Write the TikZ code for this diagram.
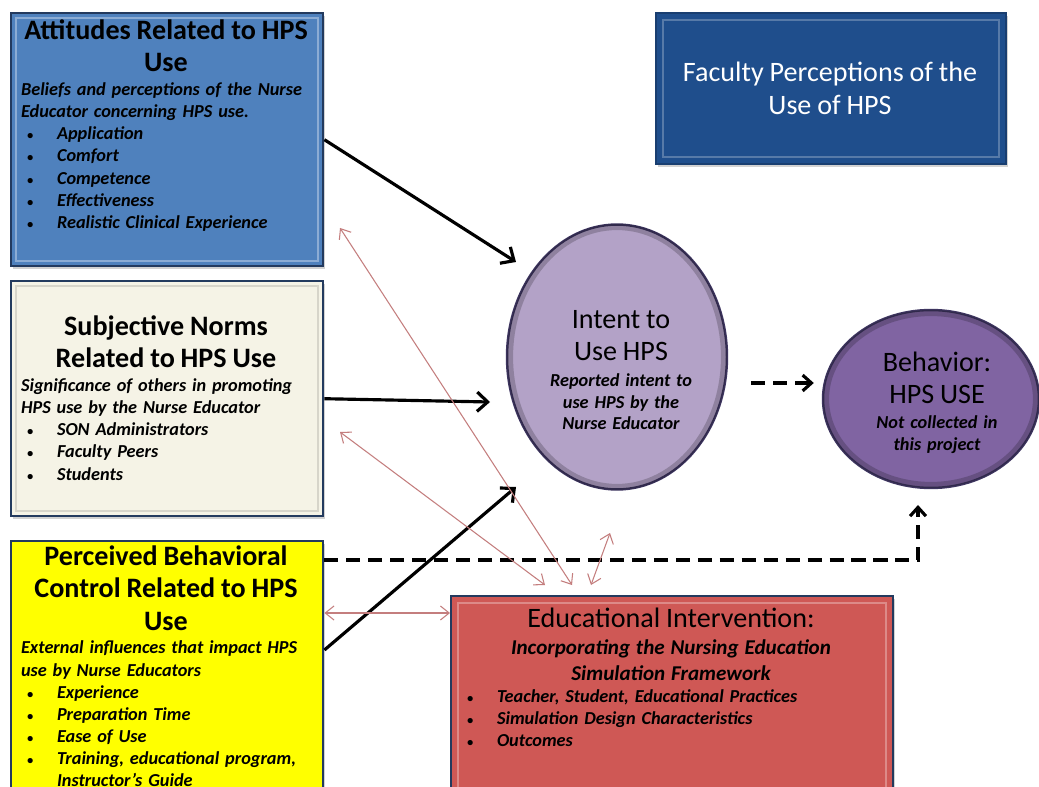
\documentclass[tikz,border=0pt]{standalone}
\usepackage{fontspec}
\setmainfont{Carlito}
\usetikzlibrary{arrows.meta,shapes.geometric,shadows}

\definecolor{attblue}{HTML}{4F81BD}
\definecolor{navy}{HTML}{233A5E}
\definecolor{cream}{HTML}{F5F3E6}
\definecolor{yel}{HTML}{FFFF00}
\definecolor{dblue}{HTML}{1F4E8C}
\definecolor{lav}{HTML}{B3A2C7}
\definecolor{purp}{HTML}{8064A2}
\definecolor{redbox}{HTML}{CF5855}
\definecolor{thinred}{HTML}{C47E7E}
\definecolor{rimdark}{HTML}{3E3560}

\newcommand{\ttlfont}{\fontsize{16}{18.5}\selectfont\bfseries}
\newcommand{\bdyfont}{\fontsize{10.4}{12.6}\selectfont\bfseries\itshape}
\newcommand{\bulitem}[1]{\par\makebox[0.72cm][l]{\hspace{0.12cm}{\fontsize{7}{7}\selectfont\textbullet}}#1}

\tikzset{
  boxnode/.style={rectangle, draw=navy, line width=1.4pt, anchor=north west, inner sep=0pt,
    drop shadow={shadow xshift=1.2pt, shadow yshift=-1.5pt, opacity=0.35}},
  bevel/.style={draw=white, draw opacity=0.35, line width=1.2pt},
  txt/.style={inner sep=0pt, anchor=north, text depth=0pt},
  ellnode/.style={ellipse, draw=rimdark, line width=1.4pt, inner sep=0pt},
  rim/.style={draw=black, draw opacity=0.2, line width=3.5pt},
  blk/.style={line width=1.8pt, -{Straight Barb[length=6pt,width=11pt,line width=1.8pt]}},
  dsh/.style={line width=1.8pt, dash pattern=on 8pt off 4.5pt, -{Straight Barb[length=5pt,width=9pt,line width=1.8pt]}},
  thn/.style={draw=thinred, line width=0.6pt, {Straight Barb[length=5pt,width=8pt,line width=0.6pt]}-{Straight Barb[length=5pt,width=8pt,line width=0.6pt]}}
}

\begin{document}
\begin{tikzpicture}[x=0.02cm,y=-0.02cm]
\useasboundingbox (0,0) rectangle (1039,787);
\fill[white] (0,0) rectangle (1039,787);
\clip (0,0) rectangle (1039,787);

% ---------- boxes ----------
\node[boxnode, fill=attblue, minimum width=6.24cm, minimum height=5.06cm] (att) at (10,12) {};
\draw[bevel] ([shift={(6,6)}]att.north west) rectangle ([shift={(-6,-6)}]att.south east);
\node[boxnode, fill=cream, minimum width=6.24cm, minimum height=4.7cm] (sub) at (10,280) {};
\draw[bevel, draw=black, draw opacity=0.12] ([shift={(6,6)}]sub.north west) rectangle ([shift={(-6,-6)}]sub.south east);
\node[boxnode, fill=yel, minimum width=6.24cm, minimum height=5.2cm] (pbc) at (10,540) {};
\node[boxnode, fill=dblue, draw=dblue!80!black, minimum width=7.0cm, minimum height=3.02cm] (fac) at (655,12) {};
\draw[bevel, draw opacity=0.25] ([shift={(8,8)}]fac.north west) rectangle ([shift={(-8,-8)}]fac.south east);
\node[boxnode, fill=redbox, minimum width=8.84cm, minimum height=4.1cm] (edu) at (450,595) {};
\draw[bevel, draw opacity=0.3] ([shift={(8,8)}]edu.north west) rectangle ([shift={(-8,-8)}]edu.south east);

% ---------- ellipses ----------
\node[ellnode, fill=lav, minimum width=4.4cm, minimum height=5.3cm] (intent) at (617,357) {};
\draw[rim] (intent.center) ellipse [x radius=107, y radius=130];
\node[ellnode, fill=purp, minimum width=4.32cm, minimum height=3.56cm] (beh) at (931,399) {};
\draw[rim] (beh.center) ellipse [x radius=105, y radius=86];

% ---------- texts ----------
\node[txt, text width=5.8cm] (atttxt) at (166,19) {\centering\ttlfont Attitudes Related to HPS\\Use\par
\vspace{1pt}\raggedright\bdyfont Beliefs and perceptions of the Nurse Educator concerning HPS use.
\bulitem{Application}\bulitem{Comfort}\bulitem{Competence}\bulitem{Effectiveness}\bulitem{Realistic Clinical Experience}\par};

\node[txt, text width=5.8cm] (subtxt) at (166,315) {\centering\ttlfont Subjective Norms\\Related to HPS Use\par
\vspace{1pt}\raggedright\bdyfont Significance of others in promoting HPS use by the Nurse Educator
\bulitem{SON Administrators}\bulitem{Faculty Peers}\bulitem{Students}\par};

\node[txt, text width=5.8cm] (pbctxt) at (166,545) {\centering\ttlfont Perceived Behavioral\\Control Related to HPS\\Use\par
\vspace{1pt}\raggedright\bdyfont External influences that impact HPS use by Nurse Educators
\bulitem{Experience}\bulitem{Preparation Time}\bulitem{Ease of Use}\bulitem{Training, educational program,}\par
\hspace{0.72cm}Instructor’s Guide\par};

\node[txt, text width=6.6cm, text=white] (factxt) at (830,62) {\centering\fontsize{16}{18.5}\selectfont Faculty Perceptions of the\\Use of HPS\par};

\node[txt, text width=8.4cm] (edutxt) at (671,608) {\centering\fontsize{16}{18}\selectfont Educational Intervention:\par
\vspace{1pt}\fontsize{12}{14.4}\selectfont\bfseries\itshape Incorporating the Nursing Education\\Simulation Framework\par
\raggedright\bdyfont
\bulitem{Teacher, Student, Educational Practices}\bulitem{Simulation Design Characteristics}\bulitem{Outcomes}\par};

\node[txt, text width=3.6cm] (intenttxt) at (621,310) {\centering\fontsize{16}{18.5}\selectfont Intent to\\Use HPS\par
\vspace{2.5pt}\fontsize{10.4}{12.2}\selectfont\bfseries\itshape Reported intent to\\use HPS by the\\Nurse Educator\par};

\node[txt, text width=3.4cm] (behtxt) at (937,352) {\centering\fontsize{16}{18}\selectfont Behavior:\\HPS USE\par
\vspace{1.5pt}\bdyfont Not collected in\\this project\par};

% ---------- connector ends ----------
\coordinate (aend) at (516,262);
\coordinate (bend) at (490,402);
\coordinate (cend) at (516,487);
\coordinate (dend) at (918,505);
\coordinate (r1a) at (340,228);
\coordinate (r1b) at (572,585);
\coordinate (r2a) at (340,432);
\coordinate (r2b) at (545,585);
\coordinate (r4a) at (591,585);
\coordinate (r4b) at (610,533);

% ---------- connectors ----------
\draw[blk] (att.east) -- (aend);
\draw[blk] (sub.east) -- (bend);
\draw[blk] ([shift={(0,110)}]pbc.north east) -- (cend);
\draw[dsh] ([shift={(23,26)}]intent.east) -- ([shift={(-8,-16)}]beh.west);
\draw[dsh] ([shift={(0,20)}]pbc.north east) -| (dend);
\draw[thn] (r1a) -- (r1b);
\draw[thn] (r2a) -- (r2b);
\draw[thn] ([shift={(0,73)}]pbc.north east) -- ([shift={(0,18)}]edu.north west);
\draw[thn] (r4a) -- (r4b);
\end{tikzpicture}
\end{document}
